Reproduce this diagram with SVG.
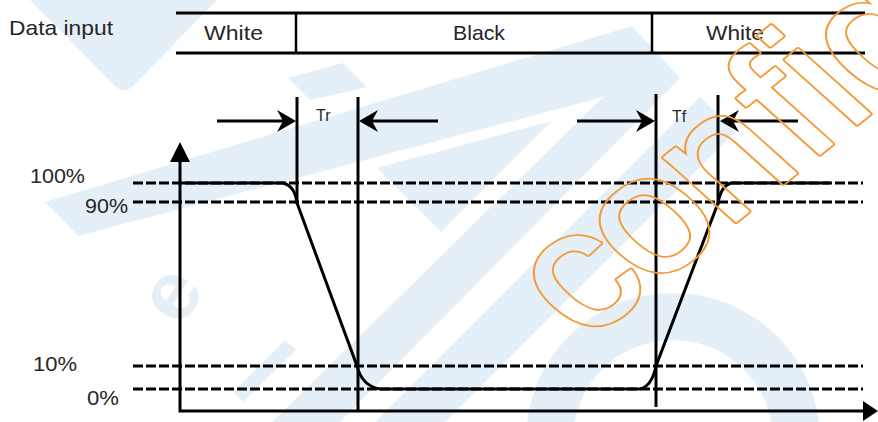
<svg xmlns="http://www.w3.org/2000/svg" width="878" height="422" viewBox="0 0 878 422">
<style>
.bg{fill:#e4eff8;stroke:none}
.ln{stroke:#000;stroke-width:3;fill:none}
.thin{stroke:#000;stroke-width:2.5;fill:none}
.dash{stroke:#000;stroke-width:3;fill:none;stroke-dasharray:10 3}
.lbl{font-family:"Liberation Sans",Arial,sans-serif;font-size:21px;fill:#262626}
.sm{font-family:"Liberation Sans",Arial,sans-serif;font-size:16px;fill:#262626}
.ah{fill:#000;stroke:none}
.wm{font-family:"Liberation Sans",Arial,sans-serif;font-size:172px}
</style>
<defs>
<mask id="wmask" maskUnits="userSpaceOnUse" x="-300" y="-400" width="1600" height="800">
<rect x="-300" y="-400" width="1600" height="800" fill="#fff"/>
<text class="wm" x="0 80 171 269 318 356" y="0" fill="#000" stroke="#000" stroke-width="1.5" stroke-linejoin="round">confid</text>
</mask>
</defs>
<rect width="878" height="422" fill="#fff"/>
<g id="watermark-bg">
<path class="bg" d="M30,0 L217,0 L132,87 Q124,94 116,87 Z"/>
<polygon class="bg" points="288,78 343,63 367,87 310,100"/>
<polygon class="bg" points="45,202 632,26 680,78 603,97 78,236"/>
<polygon class="bg" points="603,97 680,78 340,422 272,422"/>
<polygon class="bg" points="700,97 735,132 445,422 375,422"/>
<polygon class="bg" points="377,168 552,121 441,232"/>
<polygon class="bg" points="285,340 296,350 243,402 233,392"/>
<path class="bg" fill-rule="evenodd" d="M526,440 A147,147 0 1 1 820,440 A147,147 0 1 1 526,440 Z M573,440 A100,100 0 1 0 773,440 A100,100 0 1 0 573,440 Z"/>
<text transform="translate(175,297) rotate(-58)" x="0" y="22" text-anchor="middle" font-family="Liberation Sans, Arial, sans-serif" font-size="84" font-weight="bold" fill="#e4eff8">e</text>
</g>
<g id="data-input">
<text class="lbl" x="9" y="35" textLength="104" lengthAdjust="spacingAndGlyphs">Data input</text>
<line class="ln" x1="176" y1="13" x2="865" y2="13"/>
<line class="ln" x1="176" y1="53" x2="865" y2="53"/>
<line class="thin" x1="296" y1="13" x2="296" y2="53"/>
<line class="thin" x1="652" y1="13" x2="652" y2="53"/>
<text class="lbl" x="204" y="40" textLength="59" lengthAdjust="spacingAndGlyphs">White</text>
<text class="lbl" x="453" y="40" textLength="52" lengthAdjust="spacingAndGlyphs">Black</text>
<text class="lbl" x="706" y="40" textLength="58" lengthAdjust="spacingAndGlyphs">White</text>
</g>
<g id="levels">
<text class="lbl" x="30" y="183" textLength="55" lengthAdjust="spacingAndGlyphs">100%</text>
<text class="lbl" x="85" y="213" textLength="43" lengthAdjust="spacingAndGlyphs">90%</text>
<text class="lbl" x="33" y="371" textLength="44" lengthAdjust="spacingAndGlyphs">10%</text>
<text class="lbl" x="87" y="405" textLength="32" lengthAdjust="spacingAndGlyphs">0%</text>
<line class="dash" x1="133" y1="183" x2="863" y2="183"/>
<line class="dash" x1="133" y1="202" x2="863" y2="202"/>
<line class="dash" x1="133" y1="366" x2="863" y2="366"/>
<line class="dash" x1="133" y1="389" x2="863" y2="389"/>
</g>
<g id="axes">
<polyline class="ln" points="180,158 180,411 866,411"/>
<polygon class="ah" points="180,142 190,162 170,162"/>
<polygon class="ah" points="878,411 863,401 863,421"/>
</g>
<g id="signal">
<path class="ln" d="M180,183 H283 Q295,186 297,203 L357,366 Q362,386 380,389 H640 Q652,386 656,366 L718,203 Q721,186 731,183 H830"/>
</g>
<g id="timing">
<line class="ln" x1="297" y1="97" x2="297" y2="204"/>
<line class="ln" x1="358" y1="97" x2="358" y2="411"/>
<line class="ln" x1="656" y1="94" x2="656" y2="407"/>
<line class="ln" x1="718" y1="95" x2="718" y2="205"/>
<line class="ln" x1="217" y1="121" x2="290" y2="121"/>
<polygon class="ah" points="296,121 277,110 283,121 277,132"/>
<line class="ln" x1="365" y1="121" x2="438" y2="121"/>
<polygon class="ah" points="359,121 378,110 372,121 378,132"/>
<line class="ln" x1="577" y1="121" x2="649" y2="121"/>
<polygon class="ah" points="655,121 636,110 642,121 636,132"/>
<line class="ln" x1="726" y1="121" x2="798" y2="121"/>
<polygon class="ah" points="720,121 739,110 733,121 739,132"/>
<text class="sm" x="316" y="121">Tr</text>
<text class="sm" x="672" y="122">Tf</text>
</g>
<g id="watermark-text" transform="matrix(0.826,-0.666,0.789,0.709,585,343.5)">
<text class="wm" x="0 80 171 269 318 356" y="0" fill="#f39a36" stroke="#f39a36" stroke-width="5" stroke-linejoin="round" mask="url(#wmask)">confid</text>
</g>
</svg>
